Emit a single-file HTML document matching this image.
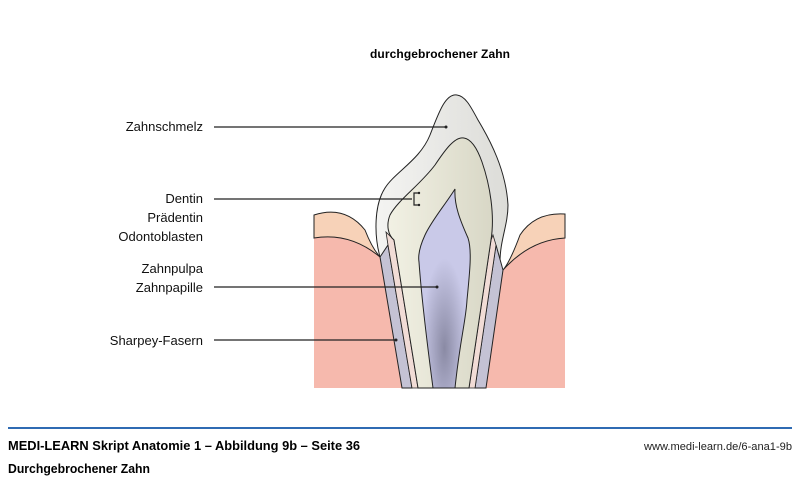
<!DOCTYPE html>
<html><head><meta charset="utf-8"><style>
html,body{margin:0;padding:0;background:#fff;}
svg{display:block;font-family:"Liberation Sans",sans-serif;}
</style></head><body>
<svg width="800" height="482" viewBox="0 0 800 482" xmlns="http://www.w3.org/2000/svg">
<defs>
<linearGradient id="en" x1="0" y1="0" x2="1" y2="0"><stop offset="0" stop-color="#f4f4f2"/><stop offset="1" stop-color="#dcdcd8"/></linearGradient>
<linearGradient id="de" x1="0" y1="0" x2="1" y2="0"><stop offset="0" stop-color="#f2f1e4"/><stop offset="1" stop-color="#d8d7c6"/></linearGradient>
<radialGradient id="pu" cx="0.5" cy="0.8" r="0.45"><stop offset="0" stop-color="#8a8aa4"/><stop offset="1" stop-color="#c9c9e8"/></radialGradient>
</defs>
<text x="440" y="58" font-size="12" font-weight="bold" text-anchor="middle" textLength="140">durchgebrochener Zahn</text>
<!-- gums -->
<path d="M314,215 Q345,205 365,230 Q372,248 380,257 L402,388 L314,388 Z" fill="#f6b9ad"/>
<path d="M314,215 Q345,205 365,230 Q372,248 380,257 Q350,232 314,238 Z" fill="#f7d2b8" stroke="#222"/>
<path d="M565,214 Q535,212 520,235 Q510,262 503,270 L486,388 L565,388 Z" fill="#f6b9ad"/>
<path d="M565,214 Q535,212 520,235 Q510,262 503,270 Q530,240 565,238 Z" fill="#f7d2b8" stroke="#222"/>
<!-- enamel -->
<path d="M457,95 C445,93 438,115 430,135 C420,160 395,172 385,188 C374,205 374,235 380,257 L500,262 C500,240 508,225 508,205 C506,170 490,140 478,120 C470,105 465,96 457,95Z" fill="url(#en)" stroke="#222"/>
<!-- periodontal -->
<path d="M380,257 L388,245 L412,388 L402,388 Z" fill="#c4c2d4" stroke="#222"/>
<path d="M496,245 L503,270 L486,388 L475,388 Z" fill="#c4c2d4" stroke="#222"/>
<!-- cementum -->
<path d="M386,232 L394,240 L418,388 L412,388 L388,245 Z" fill="#f1dcd6" stroke="#222" stroke-width="0.8"/>
<path d="M493,235 L496,245 L475,388 L469,388 L491,240 Z" fill="#f1dcd6" stroke="#222" stroke-width="0.8"/>
<!-- dentin -->
<path d="M464,138 C455,136 445,150 435,165 C420,185 398,200 390,215 C386,225 388,235 394,240 L418,388 L469,388 L491,240 C495,215 490,185 482,162 C476,145 470,139 464,138Z" fill="url(#de)" stroke="#222"/>
<!-- pulp -->
<path d="M455,189 C445,205 432,220 425,235 C419,248 418,256 419,262 C421,290 424,320 433,388 L455,388 C460,340 466,320 467,300 C470,270 472,250 468,238 C460,220 454,205 455,189 Z" fill="url(#pu)" stroke="#222"/>
<!-- leader lines -->
<g stroke="#222" stroke-width="1.2" fill="none">
<line x1="214" y1="127" x2="446" y2="127"/>
<line x1="214" y1="199" x2="412" y2="199"/>
<path d="M419,193 L414,193 L414,205 L419,205"/>
<line x1="214" y1="287" x2="437" y2="287"/>
<line x1="214" y1="340" x2="396" y2="340"/>
</g>
<g fill="#222"><circle cx="446" cy="127" r="1.5"/><circle cx="437" cy="287" r="1.5"/><circle cx="396" cy="340" r="1.5"/><circle cx="419" cy="193" r="1.2"/><circle cx="419" cy="205" r="1.2"/></g>
<g font-size="13" text-anchor="end" fill="#111">
<text x="203" y="131">Zahnschmelz</text>
<text x="203" y="203">Dentin</text>
<text x="203" y="222">Prädentin</text>
<text x="203" y="241">Odontoblasten</text>
<text x="203" y="273">Zahnpulpa</text>
<text x="203" y="292">Zahnpapille</text>
<text x="203" y="345">Sharpey-Fasern</text>
</g>
<line x1="8" y1="428" x2="792" y2="428" stroke="#2f6bb3" stroke-width="2"/>
<text x="8" y="450" font-size="13" font-weight="bold" textLength="352" lengthAdjust="spacingAndGlyphs">MEDI-LEARN Skript Anatomie 1 – Abbildung 9b – Seite 36</text>
<text x="792" y="450" font-size="11" text-anchor="end" textLength="148" lengthAdjust="spacingAndGlyphs" fill="#222">www.medi-learn.de/6-ana1-9b</text>
<text x="8" y="473" font-size="13" font-weight="bold" textLength="142" lengthAdjust="spacingAndGlyphs">Durchgebrochener Zahn</text>
</svg>
</body></html>
